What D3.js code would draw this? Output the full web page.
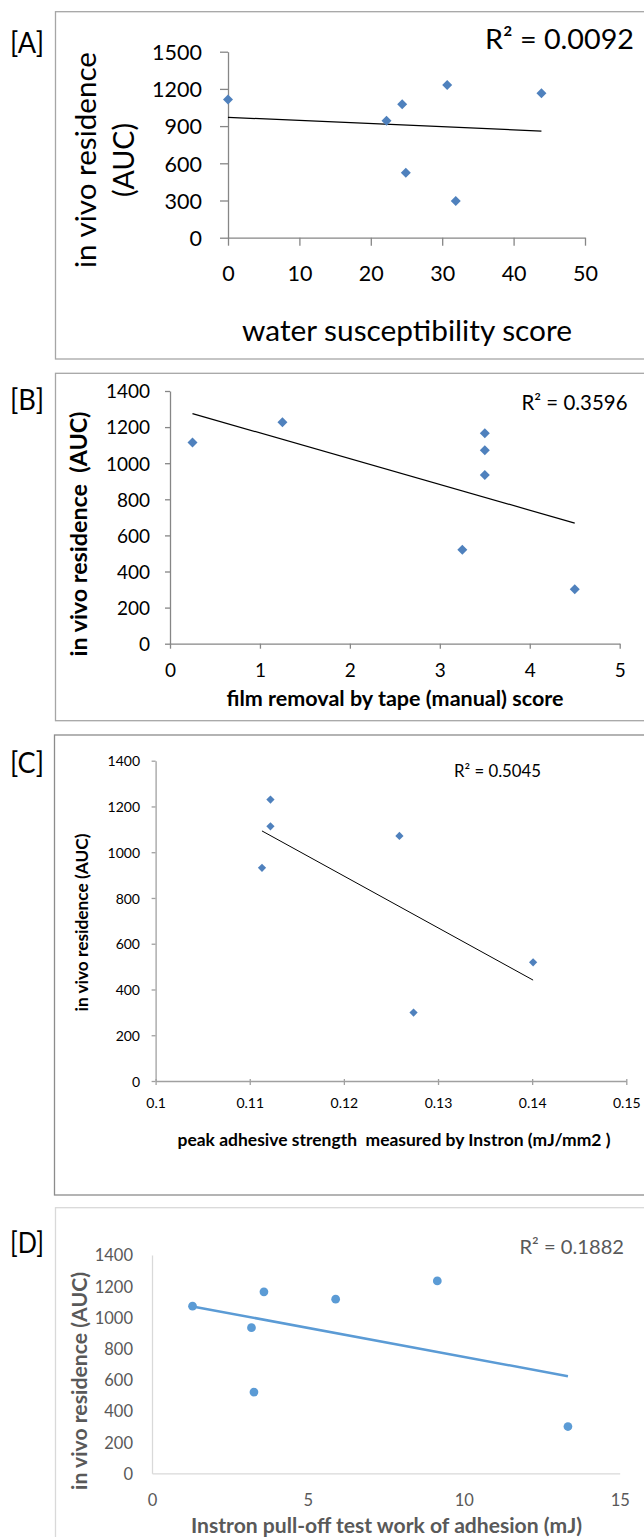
<!DOCTYPE html>
<html>
<head>
<meta charset="utf-8">
<script src="https://cdn.jsdelivr.net/npm/d3@7"></script>
<style>
  body { margin: 0; background: #fff; }
  svg text { font-family: Lato, "Open Sans", sans-serif; }
</style>
</head>
<body>
<div id="chart"></div>
<script>
// panel A - water susceptibility
let waterScore = [0, 22.2, 24.4, 24.9, 30.7, 31.9, 43.9];
let waterAuc = [1115, 944, 1076, 524, 1231, 296, 1165];
let waterTrend = [[0, 971], [43.9, 860]];
let waterXTicks = [0, 10, 20, 30, 40, 50];
let waterYTicks = [0, 300, 600, 900, 1200, 1500];

// panel B - tape removal
let tapeScore = [0.25, 1.25, 3.5, 3.5, 3.5, 3.25, 4.5];
let tapeAuc = [1114, 1227, 1166, 1072, 934, 520, 301];
let tapeTrend = [[0.25, 1275], [4.5, 668]];
let tapeXTicks = [0, 1, 2, 3, 4, 5];
let tapeYTicks = [0, 200, 400, 600, 800, 1000, 1200, 1400];

// panel C - peak adhesive strength
let peakStrength = [0.1122, 0.1122, 0.1259, 0.1113, 0.1401, 0.1274];
let peakAuc = [1230, 1113, 1071, 932, 519, 299];
let peakTrend = [[0.1113, 1093], [0.1401, 441]];
let peakXTicks = [0.1, 0.11, 0.12, 0.13, 0.14, 0.15];
let peakXLabels = ["0.1", "0.11", "0.12", "0.13", "0.14", "0.15"];
let peakYTicks = [0, 200, 400, 600, 800, 1000, 1200, 1400];

// panel D - pull-off work of adhesion
let pullWork = [9.15, 3.59, 5.89, 1.30, 3.19, 3.27, 13.34];
let pullAuc = [1234, 1164, 1117, 1072, 934, 521, 300];
let pullTrend = [[1.30, 1070], [13.34, 623]];
let pullXTicks = [0, 5, 10, 15];
let pullYTicks = [0, 200, 400, 600, 800, 1000, 1200, 1400];

let rSquared = ["R² = 0.0092", "R² = 0.3596", "R² = 0.5045", "R² = 0.1882"];

let width = 644;
let height = 1537;

let svg = d3.select("#chart")
  .append("svg")
  .attr("width", width)
  .attr("height", height);

let panels = [
  {
    tag: "[A]", frame: [55.5, 11.7, 359], frameColor: "#a6a6a6",
    xs: waterScore, ys: waterAuc, trend: waterTrend,
    xDomain: [0, 50], xRange: [228, 585], yDomain: [0, 1500], yRange: [237.7, 51.7],
    xTicks: waterXTicks, yTicks: waterYTicks,
    tickIn: 0, tickOut: 8, tickFont: 21.5, yLabelGap: 26, xLabelY: 281,
    axisColor: "#868686", textColor: "#000",
    marker: "diamond", markerSize: 50, markerColor: "#4f81bd",
    trendColor: "#000", trendWidth: 1.2,
    rText: rSquared[0], rX: 634, rY: 49, rFont: 27, rLen: 149,
    xTitle: ["water susceptibility score"], xTitleX: 407, xTitleY: 341, xTitleFont: 29, xTitleLen: [330], xTitleWeight: "normal",
    yTitle: ["in vivo residence", "(AUC)"], yTitleX: [96, 134], yTitleY: 160, yTitleFont: 29, yTitleLen: [216, 74], yTitleWeight: "normal",
    tagY: 53
  },
  {
    tag: "[B]", frame: [55.5, 373.3, 720.7], frameColor: "#a6a6a6",
    xs: tapeScore, ys: tapeAuc, trend: tapeTrend,
    xDomain: [0, 5], xRange: [170, 619.7], yDomain: [0, 1400], yRange: [643.7, 391],
    xTicks: tapeXTicks, yTicks: tapeYTicks,
    tickIn: 0, tickOut: 5, tickFont: 19, yLabelGap: 20, xLabelY: 677,
    axisColor: "#868686", textColor: "#000",
    marker: "diamond", markerSize: 50, markerColor: "#4f81bd",
    trendColor: "#000", trendWidth: 1.2,
    rText: rSquared[1], rX: 627.5, rY: 410, rFont: 20.5, rLen: 106,
    xTitle: ["film removal by tape (manual) score"], xTitleX: 395, xTitleY: 706, xTitleFont: 21.5, xTitleLen: [337], xTitleWeight: "bold",
    yTitle: ["in vivo residence  (AUC)"], yTitleX: [87], yTitleY: 534, yTitleFont: 22, yTitleLen: [245], yTitleWeight: "bold",
    tagY: 410
  },
  {
    tag: "[C]", frame: [54.5, 735, 1195], frameColor: "#8c8c8c",
    xs: peakStrength, ys: peakAuc, trend: peakTrend,
    xDomain: [0.1, 0.15], xRange: [155.6, 626.3], yDomain: [0, 1400], yRange: [1081, 760.7],
    xTicks: peakXTicks, xLabels: peakXLabels, yTicks: peakYTicks,
    tickIn: 2, tickOut: 4, tickFont: 14, yLabelGap: 15.6, xLabelY: 1108,
    axisColor: "#a0a0a0", textColor: "#000",
    marker: "diamond", markerSize: 34, markerColor: "#4f81bd",
    trendColor: "#000", trendWidth: 1,
    rText: rSquared[2], rX: 541, rY: 776.5, rFont: 16.5, rLen: 87,
    xTitle: ["peak adhesive strength  measured by Instron (mJ/mm2 )"], xTitleX: 394, xTitleY: 1146, xTitleFont: 17, xTitleLen: [433], xTitleWeight: "bold",
    yTitle: ["in vivo residence (AUC)"], yTitleX: [88], yTitleY: 922.5, yTitleFont: 17, yTitleLen: [178], yTitleWeight: "bold",
    tagY: 773
  },
  {
    tag: "[D]", frame: [55.5, 1207.7, 1560], frameColor: "#d9d9d9",
    xs: pullWork, ys: pullAuc, trend: pullTrend,
    xDomain: [0, 15], xRange: [152, 619.7], yDomain: [0, 1400], yRange: [1473.3, 1255],
    xTicks: pullXTicks, yTicks: pullYTicks,
    tickIn: 0, tickOut: 0, tickFont: 16.5, yLabelGap: 19, xLabelY: 1506,
    axisColor: "#d9d9d9", textColor: "#595959",
    marker: "circle", markerSize: 60, markerColor: "#5b9bd5",
    trendColor: "#5b9bd5", trendWidth: 2.5,
    rText: rSquared[3], rX: 624, rY: 1254, rFont: 20, rLen: 104.5,
    xTitle: ["Instron pull-off test work of adhesion (mJ)"], xTitleX: 386.5, xTitleY: 1533, xTitleFont: 20.5, xTitleLen: [391], xTitleWeight: "bold",
    yTitle: ["in vivo residence (AUC)"], yTitleX: [87], yTitleY: 1381, yTitleFont: 20.5, yTitleLen: [218], yTitleWeight: "bold",
    tagY: 1253
  }
];

panels.forEach(drawPanel);

function drawPanel(p) {
  let g = svg.append("g");

  // chart area border (runs off the right edge like the original)
  g.append("rect")
    .attr("x", p.frame[0])
    .attr("y", p.frame[1])
    .attr("width", 620)
    .attr("height", p.frame[2] - p.frame[1])
    .attr("fill", "none")
    .attr("stroke", p.frameColor)
    .attr("stroke-width", 1.3);

  g.append("text")
    .attr("x", 10)
    .attr("y", p.tagY)
    .attr("font-size", 29)
    .attr("textLength", 34)
    .attr("lengthAdjust", "spacingAndGlyphs")
    .text(p.tag);

  let x = d3.scaleLinear().domain(p.xDomain).range(p.xRange);
  let y = d3.scaleLinear().domain(p.yDomain).range(p.yRange);

  // x axis
  let xAxis = d3.axisBottom(x)
    .tickValues(p.xTicks)
    .tickSizeInner(p.tickOut)
    .tickSizeOuter(0)
    .tickFormat(function(d, i) { return p.xLabels ? p.xLabels[i] : String(d); });
  let xg = g.append("g")
    .attr("transform", "translate(0," + p.yRange[0] + ")")
    .call(xAxis);
  xg.select(".domain").attr("stroke", p.axisColor).attr("stroke-width", 1.3);
  xg.selectAll(".tick line")
    .attr("y1", -p.tickIn)
    .attr("stroke", p.axisColor)
    .attr("stroke-width", 1.3)
    .attr("opacity", p.tickOut > 0 ? 1 : 0);
  xg.selectAll(".tick text")
    .attr("y", p.xLabelY - p.yRange[0])
    .attr("dy", null)
    .attr("fill", p.textColor)
    .attr("font-size", p.tickFont)
    .attr("font-family", "Lato, sans-serif");

  // y axis
  let yAxis = d3.axisLeft(y)
    .tickValues(p.yTicks)
    .tickSizeInner(p.tickOut)
    .tickSizeOuter(0)
    .tickFormat(function(d) { return String(d); });
  let yg = g.append("g")
    .attr("transform", "translate(" + p.xRange[0] + ",0)")
    .call(yAxis);
  yg.select(".domain").attr("stroke", p.axisColor).attr("stroke-width", 1.3);
  yg.selectAll(".tick line")
    .attr("stroke", p.axisColor)
    .attr("stroke-width", 1.3)
    .attr("opacity", p.tickOut > 0 ? 1 : 0);
  yg.selectAll(".tick text")
    .attr("x", -p.yLabelGap)
    .attr("dy", "0.36em")
    .attr("fill", p.textColor)
    .attr("font-size", p.tickFont)
    .attr("font-family", "Lato, sans-serif");

  // linear trendline
  g.append("line")
    .attr("x1", x(p.trend[0][0]))
    .attr("y1", y(p.trend[0][1]))
    .attr("x2", x(p.trend[1][0]))
    .attr("y2", y(p.trend[1][1]))
    .attr("stroke", p.trendColor)
    .attr("stroke-width", p.trendWidth);

  // points
  let symbol = p.marker === "circle"
    ? d3.symbol().type(d3.symbolCircle).size(p.markerSize)
    : d3.symbol().type(d3.symbolSquare).size(p.markerSize);
  g.append("g")
    .selectAll("path")
    .data(p.xs.map(function(v, i) { return [v, p.ys[i]]; }))
    .enter()
    .append("path")
    .attr("d", symbol)
    .attr("transform", function(d) {
      return "translate(" + x(d[0]) + "," + y(d[1]) + ")" + (p.marker === "circle" ? "" : " rotate(45)");
    })
    .attr("fill", p.markerColor);

  // R squared
  g.append("text")
    .attr("x", p.rX - p.rLen)
    .attr("y", p.rY)
    .attr("font-size", p.rFont)
    .attr("textLength", p.rLen)
    .attr("lengthAdjust", "spacingAndGlyphs")
    .attr("fill", p.textColor)
    .text(p.rText);

  // axis titles
  p.xTitle.forEach(function(t, i) {
    g.append("text")
      .attr("x", p.xTitleX - p.xTitleLen[i] / 2)
      .attr("y", p.xTitleY)
      .attr("font-size", p.xTitleFont)
      .attr("font-weight", p.xTitleWeight)
      .attr("textLength", p.xTitleLen[i])
      .attr("lengthAdjust", "spacingAndGlyphs")
      .attr("fill", p.textColor)
      .style("white-space", "pre")
      .text(t);
  });
  p.yTitle.forEach(function(t, i) {
    g.append("text")
      .attr("transform", "translate(" + p.yTitleX[i] + "," + p.yTitleY + ") rotate(-90)")
      .attr("x", -p.yTitleLen[i] / 2)
      .attr("font-size", p.yTitleFont)
      .attr("font-weight", p.yTitleWeight)
      .attr("textLength", p.yTitleLen[i])
      .attr("lengthAdjust", "spacingAndGlyphs")
      .attr("fill", p.textColor)
      .style("white-space", "pre")
      .text(t);
  });
}
</script>
</body>
</html>
